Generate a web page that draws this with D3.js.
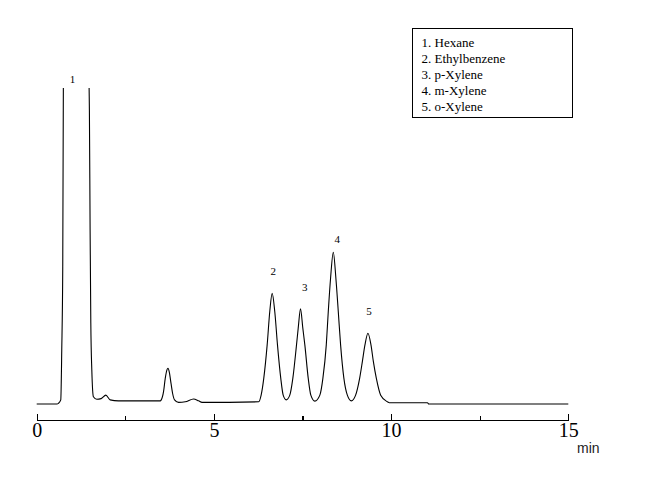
<!DOCTYPE html>
<html>
<head>
<meta charset="utf-8">
<script src="https://cdn.jsdelivr.net/npm/d3@7"></script>
<style>
    body { margin: 0; background: #fff; }
    svg { display: block; }
</style>
</head>
<body>
<div id="chart"></div>
<script>
// Chromatogram: time in minutes, signal in mV
const retentionTimes = [
    0, 0.574, 0.611, 0.679, 0.707, 0.735, 0.752, 0.772, 1.111, 1.465, 1.479, 1.487, 1.507, 1.527, 1.555, 1.600,
    1.696, 1.818, 1.951, 2.072, 2.307, 3.486, 3.514, 3.579, 3.627, 3.675, 3.704, 3.740, 3.789, 3.834, 3.890,
    4.003, 4.193, 4.427, 4.569, 4.665,
    // peak 2
    6.265, 6.333, 6.407, 6.503, 6.576, 6.644, 6.718, 6.794, 6.887, 6.955, 7.040,
    // peak 3
    7.142, 7.227, 7.331, 7.379, 7.444, 7.509, 7.566, 7.662, 7.735, 7.848,
    // peak 4
    7.990, 8.075, 8.171, 8.227, 8.292, 8.369, 8.442, 8.510, 8.575, 8.668, 8.765, 8.878,
    // peak 5
    8.999, 9.112, 9.189, 9.262, 9.347, 9.432, 9.500, 9.584, 9.706, 9.895, 9.951,
    11.026, 11.063, 15.0
];
const signal = [
    0, 0, 0.2, 1.3, 17.1, 43.4, 100, 115.2, 159.5, 115.2, 100, 93.0, 55.1, 25.6, 10.8, 2.3,
    1.5, 1.7, 2.8, 1.3, 1.0, 1.0, 1.3, 3.9, 8.1, 10.8, 11.3, 10.2, 6.6, 3.4, 1.3,
    0.5, 0.7, 1.6, 1.0, 0.5,
    0.7, 2.8, 8.1, 18.7, 29.2, 35.0, 29.2, 18.7, 8.1, 2.8, 1.3,
    2.8, 8.1, 18.7, 24.0, 30.1, 24.0, 18.7, 8.1, 2.8, 0.9,
    2.8, 8.1, 18.7, 29.2, 39.8, 48.0, 39.8, 29.2, 18.7, 8.1, 2.8, 1.0,
    2.8, 8.1, 13.4, 18.7, 22.4, 18.7, 13.4, 8.1, 2.8, 0.7, 0.4,
    0.4, 0, 0
];

// Peak numbers written above the peaks
const peakLabels = ['1', '2', '3', '4', '5'];
const peakLabelTimes = [1.007, 6.672, 7.566, 8.482, 9.375];
const peakLabelHeights = [102.8, 41.9, 37.1, 52.2, 29.4];

const legendItems = ['1. Hexane', '2. Ethylbenzene', '3. p-Xylene', '4. m-Xylene', '5. o-Xylene'];

const majorTicks = [0, 5, 10, 15];
const minorTicks = [2.5, 7.5, 12.5];

const width = 650;
const height = 477;
const plotLeft = 36.7;
const plotRight = 568.3;
const plotTop = 88;
const baselineY = 404;
const axisY = 420;

function drawChart() {
    const svg = d3.select('#chart')
        .append('svg')
        .attr('width', width)
        .attr('height', height);

    const x = d3.scaleLinear().domain([0, 15]).range([plotLeft, plotRight]);
    const y = d3.scaleLinear().domain([0, 100]).range([baselineY, plotTop]);

    // the solvent peak runs off the top of the plot
    svg.append('clipPath')
        .attr('id', 'plot-clip')
        .append('rect')
        .attr('x', 0)
        .attr('y', plotTop)
        .attr('width', width)
        .attr('height', height - plotTop);

    const points = retentionTimes.map((t, i) => [t, signal[i]]);

    const line = d3.line()
        .x(d => x(d[0]))
        .y(d => y(d[1]))
        .curve(d3.curveMonotoneX);

    svg.append('path')
        .datum(points)
        .attr('clip-path', 'url(#plot-clip)')
        .attr('fill', 'none')
        .attr('stroke', '#000')
        .attr('stroke-width', 1.1)
        .attr('d', line);

    // peak numbers
    svg.selectAll('.peak-label')
        .data(peakLabels)
        .enter()
        .append('text')
        .attr('class', 'peak-label')
        .attr('x', (d, i) => x(peakLabelTimes[i]))
        .attr('y', (d, i) => y(peakLabelHeights[i]))
        .attr('dy', '0.35em')
        .attr('text-anchor', 'middle')
        .style('font-family', '"Liberation Serif", "Times New Roman", serif')
        .style('font-size', '11px')
        .attr('fill', '#000')
        .text(d => d);

    // time axis, ticks pointing up
    const majorAxis = d3.axisBottom(x)
        .tickValues(majorTicks)
        .tickSizeInner(-6)
        .tickSizeOuter(0)
        .tickPadding(3)
        .tickFormat(d3.format('d'));

    const minorAxis = d3.axisBottom(x)
        .tickValues(minorTicks)
        .tickSizeInner(-4)
        .tickSizeOuter(0)
        .tickFormat('');

    const gMajor = svg.append('g')
        .attr('transform', `translate(0,${axisY})`)
        .call(majorAxis);

    svg.append('g')
        .attr('transform', `translate(0,${axisY})`)
        .call(minorAxis)
        .select('.domain').remove();

    svg.selectAll('.tick line, .domain')
        .attr('stroke', '#000')
        .attr('stroke-width', 1.2)
        .attr('shape-rendering', 'crispEdges');

    gMajor.selectAll('.tick text')
        .attr('fill', '#000')
        .style('font-family', '"Liberation Serif", "Times New Roman", serif')
        .style('font-size', '20px');

    svg.append('text')
        .attr('x', 577)
        .attr('y', 452.5)
        .style('font-family', '"Liberation Sans", Arial, sans-serif')
        .style('font-size', '14px')
        .attr('fill', '#222')
        .text('min');

    // legend box
    const legend = svg.append('g');
    legend.append('rect')
        .attr('x', 412.5)
        .attr('y', 28.5)
        .attr('width', 160)
        .attr('height', 89)
        .attr('fill', '#fff')
        .attr('stroke', '#000')
        .attr('stroke-width', 1)
        .attr('shape-rendering', 'crispEdges');

    legend.selectAll('.legend-item')
        .data(legendItems)
        .enter()
        .append('text')
        .attr('class', 'legend-item')
        .attr('x', 421.5)
        .attr('y', (d, i) => 46.5 + i * 16)
        .style('font-family', '"Liberation Serif", "Times New Roman", serif')
        .style('font-size', '13px')
        .attr('fill', '#000')
        .text(d => d);
}

document.addEventListener('DOMContentLoaded', drawChart);
</script>
</body>
</html>
